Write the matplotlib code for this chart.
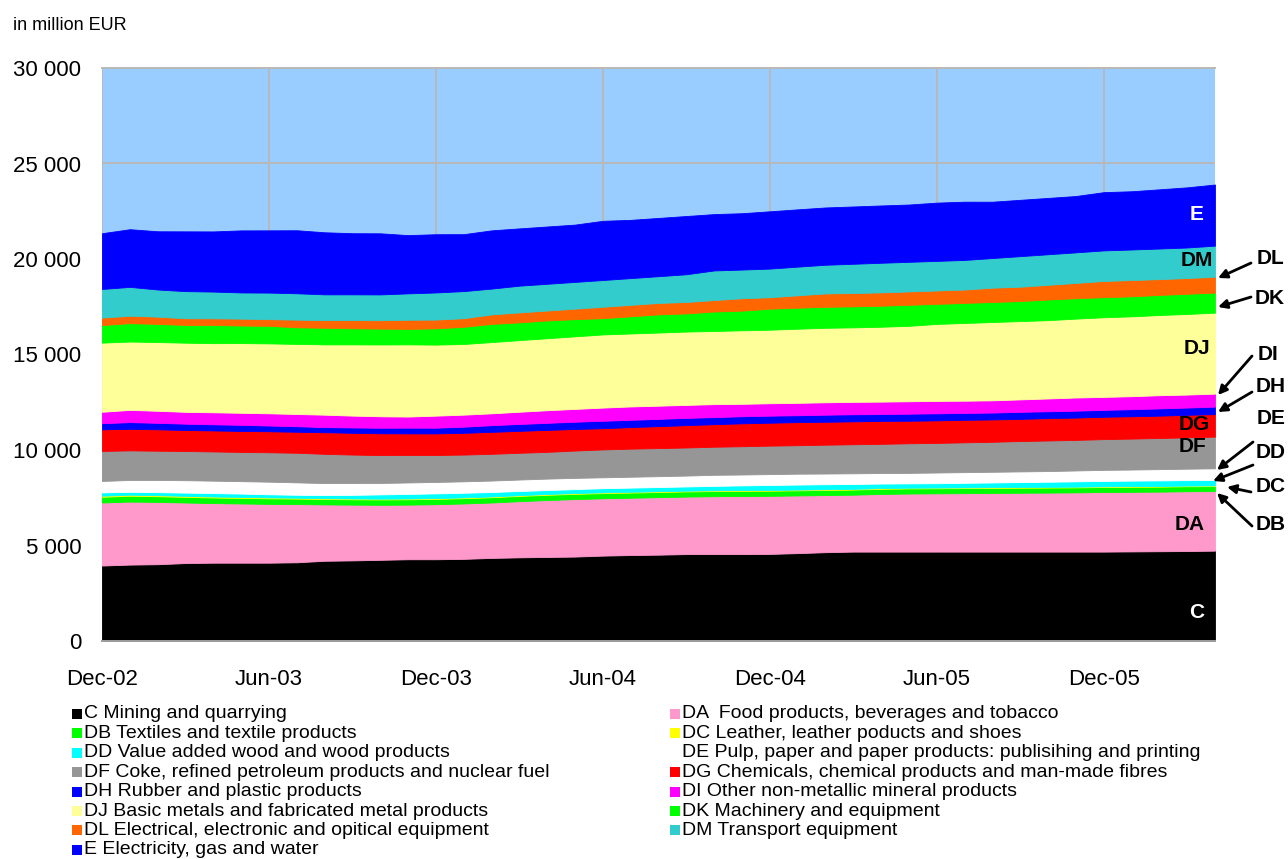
import matplotlib
matplotlib.use('Agg')
import matplotlib.pyplot as plt
import numpy as np
import pandas as pd
from matplotlib.patches import Rectangle
from matplotlib.ticker import FuncFormatter

plt.rcParams['font.family'] = ['Liberation Sans', 'DejaVu Sans']

# === DATA: monthly value added, million EUR (Dec-02 .. Apr-06) ===
months = pd.date_range('2002-12-01', periods=41, freq='MS')

C = [3950, 4000, 4020, 4080, 4100, 4100, 4100, 4120, 4200, 4220, 4250, 4280, 4280, 4300, 4350, 4380, 4400,
     4420, 4470, 4500, 4520, 4550, 4550, 4550, 4560, 4600, 4650, 4680, 4680, 4680, 4680, 4680, 4680, 4680,
     4680, 4680, 4680, 4690, 4700, 4710, 4730]
DA = [3300, 3300, 3260, 3170, 3120, 3100, 3080, 3050, 2950, 2920, 2880, 2860, 2880, 2900, 2900, 2940, 2980,
      3010, 3000, 3000, 3010, 3010, 3030, 3040, 3040, 3020, 2990, 2980, 3020, 3040, 3050, 3060, 3070, 3080,
      3090, 3100, 3120, 3120, 3120, 3130, 3120]
DB = [300, 305, 300, 295, 292, 290, 288, 285, 282, 280, 280, 280, 278, 278, 276, 275, 274, 273, 272, 271,
      270, 270, 270, 269, 268, 268, 267, 267, 266, 266, 265, 265, 264, 264, 263, 263, 262, 262, 261, 261, 260]
DC = [55, 55, 54, 53, 52, 50, 48, 45, 42, 40, 40, 40, 40, 40, 40, 40, 40, 40, 40, 40, 40, 39, 39, 38, 38,
      38, 37, 37, 37, 36, 36, 36, 36, 35, 35, 35, 35, 35, 35, 35, 35]
DD = [175, 150, 158, 170, 180, 178, 165, 155, 165, 190, 225, 240, 250, 242, 234, 218, 208, 208, 218, 219,
      220, 222, 232, 250, 262, 264, 264, 256, 240, 230, 230, 240, 250, 260, 270, 280, 283, 290, 292, 286, 285]
DE = [600, 620, 640, 650, 650, 650, 660, 650, 630, 620, 600, 600, 600, 600, 600, 600, 600, 590, 570, 570,
      570, 570, 580, 570, 570, 570, 560, 560, 550, 550, 560, 560, 560, 560, 560, 570, 580, 580, 590, 600, 610]
DF = [1570, 1550, 1530, 1530, 1530, 1530, 1540, 1550, 1530, 1490, 1460, 1440, 1410, 1400, 1400, 1400, 1400,
      1430, 1460, 1470, 1470, 1470, 1470, 1480, 1490, 1490, 1510, 1520, 1530, 1550, 1550, 1560, 1570, 1590,
      1600, 1600, 1610, 1620, 1630, 1640, 1660]
DG = [1130, 1130, 1120, 1100, 1100, 1100, 1100, 1100, 1130, 1140, 1140, 1130, 1130, 1140, 1150, 1150, 1150,
      1130, 1110, 1130, 1150, 1170, 1180, 1200, 1200, 1210, 1200, 1200, 1200, 1180, 1180, 1180, 1170, 1160,
      1170, 1170, 1170, 1170, 1170, 1180, 1180]
DH = [320, 350, 340, 330, 320, 320, 300, 290, 270, 280, 290, 300, 300, 320, 350, 360, 370, 380, 390, 380,
      380, 380, 370, 370, 370, 360, 370, 370, 360, 370, 370, 360, 360, 370, 360, 360, 360, 370, 380, 380, 390]
DI = [600, 640, 630, 620, 630, 630, 640, 640, 650, 620, 600, 580, 630, 630, 620, 640, 660, 670, 690, 700,
      690, 680, 680, 650, 650, 650, 650, 650, 650, 650, 650, 640, 640, 650, 670, 690, 680, 680, 690, 680, 680]
DJ = [3620, 3580, 3600, 3620, 3620, 3650, 3660, 3670, 3680, 3730, 3760, 3780, 3720, 3700, 3730, 3750, 3770,
      3800, 3830, 3820, 3830, 3840, 3830, 3850, 3850, 3880, 3900, 3900, 3920, 3950, 4030, 4070, 4100, 4100,
      4100, 4130, 4170, 4180, 4200, 4220, 4240]
DK = [920, 960, 950, 930, 950, 920, 920, 870, 870, 840, 830, 810, 850, 900, 950, 930, 930, 900, 850, 900,
      950, 950, 1020, 1030, 1100, 1100, 1100, 1100, 1100, 1100, 1050, 1050, 1050, 1050, 1080, 1070, 1050,
      1050, 1050, 1060, 1050]
DL = [390, 390, 380, 350, 350, 360, 350, 400, 400, 430, 440, 480, 460, 450, 500, 520, 520, 550, 600, 600,
      600, 600, 600, 650, 600, 650, 700, 700, 700, 700, 700, 700, 750, 750, 770, 800, 850, 850, 830, 820, 830]
DM = [1500, 1510, 1420, 1420, 1400, 1370, 1390, 1380, 1350, 1350, 1350, 1380, 1420, 1420, 1350, 1400, 1400,
      1400, 1400, 1400, 1400, 1450, 1550, 1500, 1500, 1500, 1500, 1530, 1550, 1550, 1550, 1550, 1550, 1600,
      1600, 1600, 1600, 1600, 1600, 1600, 1630]
E = [2920, 3020, 3050, 3130, 3150, 3250, 3260, 3300, 3250, 3200, 3200, 3050, 3050, 2980, 3050, 3000, 3000,
     3000, 3100, 3050, 3050, 3050, 2950, 2950, 3000, 3000, 3000, 3000, 3000, 3000, 3050, 3050, 2950, 2950,
     2950, 2950, 3050, 3050, 3100, 3150, 3200]

codes = ['C', 'DA', 'DB', 'DC', 'DD', 'DE', 'DF', 'DG', 'DH', 'DI', 'DJ', 'DK', 'DL', 'DM', 'E']
names = {
    'C': 'C Mining and quarrying',
    'DA': 'DA  Food products, beverages and tobacco',
    'DB': 'DB Textiles and textile products',
    'DC': 'DC Leather, leather poducts and shoes',
    'DD': 'DD Value added wood and wood products',
    'DE': 'DE Pulp, paper and paper products: publisihing and printing',
    'DF': 'DF Coke, refined petroleum products and nuclear fuel',
    'DG': 'DG Chemicals, chemical products and man-made fibres',
    'DH': 'DH Rubber and plastic products',
    'DI': 'DI Other non-metallic mineral products',
    'DJ': 'DJ Basic metals and fabricated metal products',
    'DK': 'DK Machinery and equipment',
    'DL': 'DL Electrical, electronic and opitical equipment',
    'DM': 'DM Transport equipment',
    'E': 'E Electricity, gas and water',
}
colors = {
    'C': '#000000', 'DA': '#FF99CC', 'DB': '#00FF00', 'DC': '#FFFF00', 'DD': '#00FFFF',
    'DE': '#FFFFFF', 'DF': '#969696', 'DG': '#FF0000', 'DH': '#0000FF', 'DI': '#FF00FF',
    'DJ': '#FFFF99', 'DK': '#00FF00', 'DL': '#FF6600', 'DM': '#33CCCC', 'E': '#0000FF',
}
values = [C, DA, DB, DC, DD, DE, DF, DG, DH, DI, DJ, DK, DL, DM, E]

W, H = 1288, 859


def px(xp, yp):
    # pixel position measured from top-left -> figure pixels
    return (xp, H - yp)


fig = plt.figure(figsize=(W / 100, H / 100), dpi=100)
ax = fig.add_axes([102 / W, 1 - 641 / H, (1215 - 102) / W, (641 - 68) / H])
ax.set_facecolor('#99CCFF')

x = np.arange(len(months))
polys = ax.stackplot(x, *values, colors=[colors[c] for c in codes])
for p, c in zip(polys, codes):
    p.set_edgecolor(colors[c])
    p.set_linewidth(0.6)

ax.set_xlim(x[0], x[-1])
ax.set_ylim(0, 30000)
ax.set_yticks(np.arange(0, 30001, 5000))
ax.yaxis.set_major_formatter(FuncFormatter(lambda v, p: f"{int(v):,}".replace(',', ' ')))
ax.set_xticks(x[::6])
ax.set_xticklabels([m.strftime('%b-%y') for m in months[::6]])
ax.tick_params(axis='both', length=0, labelsize=16)
ax.tick_params(axis='y', pad=15)
ax.tick_params(axis='x', pad=20)

ax.set_axisbelow(True)
ax.grid(True, color='#B8B8B8', linewidth=1.4)
for s in ['left', 'right']:
    ax.spines[s].set_visible(False)
ax.spines['top'].set_color('#B8B8B8')
ax.spines['bottom'].set_color('#A0A0A0')
ax.spines['top'].set_linewidth(1.4)
ax.spines['bottom'].set_linewidth(1.4)

fig.text(13 / W, 1 - 25 / H, 'in million EUR', fontsize=13, va='center', ha='left')

# === SERIES LABELS INSIDE THE AREAS ===
inside = [('E', 1197, 214, 'white'), ('DM', 1197, 260, 'black'), ('DJ', 1197, 348, 'black'),
          ('DG', 1194, 424, 'black'), ('DF', 1193, 447, 'black'), ('DA', 1190, 525, 'black'),
          ('C', 1197, 612, 'white')]
for lab, xp, yp, col in inside:
    ax.annotate(lab, xy=px(xp, yp), xycoords='figure pixels', ha='center', va='center',
                fontsize=15, fontweight='bold', color=col)

# === SERIES LABELS OUTSIDE WITH ARROWS ===
outside = [('DL', 1270, 259, (1251, 263), (1218, 278)),
           ('DK', 1270, 299, (1251, 297), (1218, 307)),
           ('DI', 1268, 354, (1252, 356), (1218, 395)),
           ('DH', 1271, 386, (1252, 392), (1218, 412)),
           ('DE', 1271, 419, (1253, 442), (1217, 470)),
           ('DD', 1271, 452, (1253, 465), (1213, 481)),
           ('DC', 1271, 487, (1251, 492), (1227, 487)),
           ('DB', 1271, 525, (1252, 526), (1217, 493))]
for lab, xp, yp, tail, tip in outside:
    ax.annotate(lab, xy=px(xp, yp), xycoords='figure pixels', ha='center', va='center',
                fontsize=15, fontweight='bold', color='black', annotation_clip=False)
    ax.annotate('', xy=px(*tip), xycoords='figure pixels', xytext=px(*tail),
                textcoords='figure pixels', annotation_clip=False,
                arrowprops=dict(arrowstyle='-|>', color='black', lw=2, mutation_scale=13,
                                shrinkA=0, shrinkB=0))

# === LEGEND (two columns, row-wise order) ===
left_col = ['C', 'DB', 'DD', 'DF', 'DH', 'DJ', 'DL', 'E']
right_col = ['DA', 'DC', 'DE', 'DG', 'DI', 'DK', 'DM']
row_y = [714 + 19.4 * i for i in range(8)]
for col_codes, mx in [(left_col, 72), (right_col, 670)]:
    for code, yp in zip(col_codes, row_y):
        if code != 'DE':
            fig.patches.append(Rectangle(px(mx, yp + 5), 10, 10, transform=None,
                                         facecolor=colors[code], edgecolor='none'))
        fig.text((mx + 12) / W, 1 - yp / H, names[code], fontsize=14, va='center', ha='left')

fig.savefig('out.png', dpi=100)
